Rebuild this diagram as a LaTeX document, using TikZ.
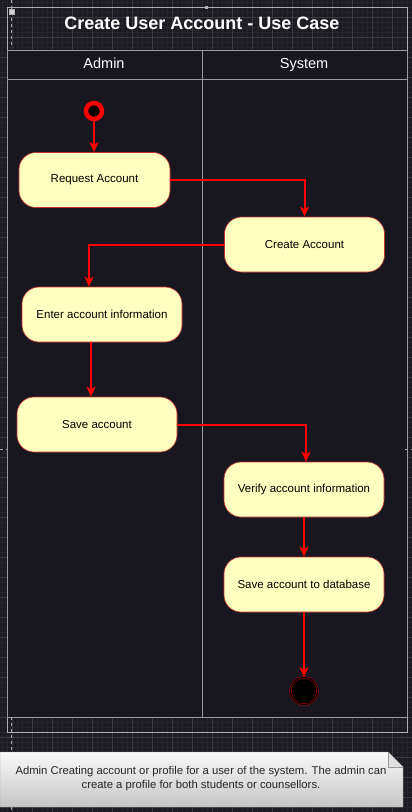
\documentclass[tikz,border=0pt]{standalone}
\usepackage{fontspec}
\setmainfont{Liberation Sans}
\usetikzlibrary{arrows.meta}
\definecolor{canvas}{HTML}{1C1B22}
\definecolor{poolbg}{HTML}{18161F}
\definecolor{gridmaj}{HTML}{3A3942}
\definecolor{gridmin}{HTML}{25242C}
\definecolor{lanegray}{HTML}{9A9A9E}
\definecolor{actfill}{HTML}{FFFFC0}
\definecolor{actline}{HTML}{C83232}
\tikzset{
  activity/.style={draw=actline, line width=0.6pt, fill=actfill, rounded corners=17pt,
    minimum height=55pt, inner sep=0pt, text=black, font=\fontsize{11.5}{13}\selectfont},
  flow/.style={draw=red, line width=2pt, -{Stealth[length=10pt,width=9pt,inset=2.5pt]}},
  lane/.style={draw=lanegray, line width=0.9pt},
  heading/.style={text=white, text height=10pt, text depth=3pt, font=\fontsize{14.5}{16}\selectfont},
}
\begin{document}
\begin{tikzpicture}[x=1pt,y=-1pt]
\useasboundingbox (0,0) rectangle (412,812);
\fill[canvas] (0,0) rectangle (412,812);
% grid
\foreach \g in {2,7,...,412} \draw[gridmin, line width=0.4pt] (\g,0) -- (\g,812);
\foreach \g in {2,7,...,812} \draw[gridmin, line width=0.4pt] (0,\g) -- (412,\g);
\foreach \g in {12,32,...,412} \draw[gridmaj, line width=0.6pt] (\g,0) -- (\g,812);
\foreach \g in {17,37,...,812} \draw[gridmaj, line width=0.6pt] (0,\g) -- (412,\g);

% frame and swimlanes
\draw[lanegray!80, line width=0.6pt] (7,7) rectangle (407,732);
\fill[poolbg] (7,50) rectangle (407,717);
\draw[lane] (7,50) rectangle (407,717);
\draw[lane] (7,79) -- (407,79);
\draw[lane] (202,50) -- (202,717);
\node[text=white, font=\bfseries\fontsize{18}{20}\selectfont] (title) at (202,23) {Create User Account - Use Case};
\node[heading] (admin) at (104,64.5) {Admin};
\node[heading] (system) at (304,64.5) {System};

% editor marks
\draw[gray!70, dashed, line width=1pt] (11,0) -- (11,46);
\draw[gray!70, dashed, line width=1pt] (11,717) -- (11,812);
\draw[gray!60, fill=gray!35, line width=0.5pt] (9,9) rectangle (14,14);
\fill[gray!60] (205,6) rectangle (208,9);
\draw[gray!70, dashed, line width=1pt] (0,449) -- (8,449);
\draw[gray!70, dashed, line width=1pt] (405,449) -- (412,449);

% activities
\node[circle, draw=red, line width=4.5pt, fill=black, minimum size=16pt, inner sep=0pt] (start) at (94,111) {};
\node[activity, minimum width=151pt] (request) at (94.5,180) {Request Account};
\node[activity, minimum width=160pt] (create) at (304.5,244.5) {Create Account};
\node[activity, minimum width=160pt] (enter) at (102,314.5) {Enter account information};
\node[activity, minimum width=160pt] (save) at (97,424.5) {Save account};
\node[activity, minimum width=160pt] (verify) at (304,489.5) {Verify account information};
\node[activity, minimum width=160pt] (store) at (304,584.5) {Save account to database};
\node[circle, fill=black, draw=red!75!black, double=black, double distance=1.2pt, line width=0.5pt,
  minimum size=27pt, inner sep=0pt] (end) at (304,691) {};

\draw[flow] (start) -- (start |- request.north);
\draw[flow] (request.east) -| (create.north);
\draw[flow] (create.west) -| ([xshift=-13pt]enter.north);
\draw[flow] ([xshift=-11pt]enter.south) -- ([xshift=-6pt]save.north);
\draw[flow] (save.east) -| ([xshift=2pt]verify.north);
\draw[flow] (verify) -- (store);
\draw[flow] (store) -- (end);

% note
\shade[top color=white!95!gray, bottom color=gray!45, draw=gray!80]
  (0,752) -- (388,752) -- (403,767) -- (403,807) -- (0,807) -- cycle;
\draw[gray!80, fill=gray!25] (388,752) -- (388,767) -- (403,767);
\node[text=black!85, align=center, font=\fontsize{11.3}{14}\selectfont] (note) at (201,779)
  {Admin Creating account or profile for a user of the system. The admin can\\
   create a profile for both students or counsellors.};
\end{tikzpicture}
\end{document}
